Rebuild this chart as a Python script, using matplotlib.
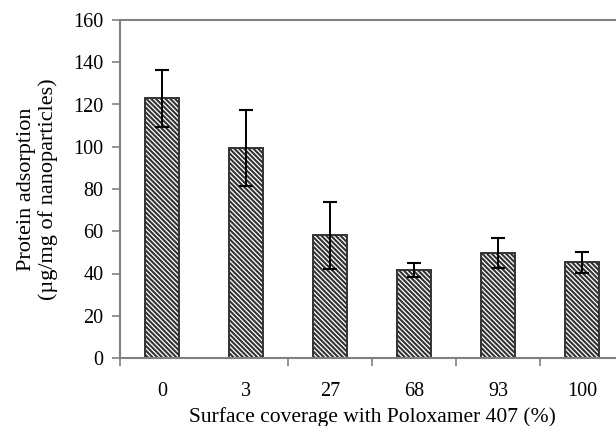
import matplotlib
matplotlib.use('Agg')
import matplotlib.pyplot as plt
import numpy as np

# data
coverage = ['0', '3', '27', '68', '93', '100']
adsorption = [123.0, 99.5, 58.0, 41.8, 49.7, 45.3]
err = [13.5, 18.0, 15.7, 3.3, 7.3, 5.1]

plt.rcParams['font.family'] = ['Liberation Serif', 'DejaVu Serif']
plt.rcParams['hatch.linewidth'] = 1.5

fig = plt.figure(figsize=(6.16, 4.26), dpi=100)
ax = fig.add_axes([120/616, 68/426, 504/616, 338/426])

x = np.arange(len(coverage))
ax.bar(x, adsorption, width=0.4, color='white', edgecolor='#333333',
       linewidth=1.4, hatch='\\' * 7, zorder=2)
ax.errorbar(x, adsorption, yerr=err, fmt='none', ecolor='black',
            elinewidth=1.4, capsize=5, capthick=1.5, zorder=3)

ax.set_xlim(-0.5, 5.5)
ax.set_ylim(0, 160)
ax.set_yticks(np.arange(0, 161, 20))

# category separators as ticks, labels at bar centres
ax.set_xticks([-0.5, 1.5, 2.5, 3.5, 4.5])
ax.set_xticklabels([])
ax.set_xticks(x, minor=True)
ax.set_xticklabels(coverage, minor=True)
ax.tick_params(axis='x', which='minor', length=0, pad=17, labelsize=14.5)
ax.tick_params(axis='x', which='major', length=6, width=1.2, color='#808080')
ax.tick_params(axis='y', length=6, width=1.2, color='#808080', labelsize=14.5, pad=6)

for s in ax.spines.values():
    s.set_color('#808080')
    s.set_linewidth(1.5)

ax.set_ylabel('Protein adsorption\n(µg/mg of nanoparticles)', fontsize=16,
              labelpad=11, linespacing=1.1)
ax.set_xlabel('Surface coverage with Poloxamer 407 (%)', fontsize=15.5, labelpad=5)

fig.savefig('out.png', dpi=100)
